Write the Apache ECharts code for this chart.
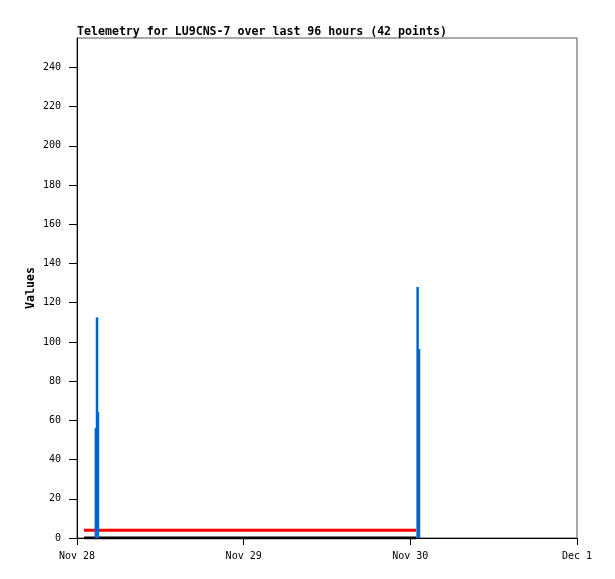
<!DOCTYPE html>
<html>
<head>
<meta charset="utf-8">
<script src="https://cdn.jsdelivr.net/npm/echarts@6/dist/echarts.min.js"></script>
<style>html,body{margin:0;padding:0;background:#fff}#c{width:615px;height:579px}</style>
</head>
<body>
<div id="c"></div>
<script>
// ---- data ----
const titleText = 'Telemetry for LU9CNS-7 over last 96 hours (42 points)';
const yAxisName = 'Values';
const xTickTimes = ['2023-11-28 00:00', '2023-11-29 00:00', '2023-11-30 00:00', '2023-12-01 00:00'];
const xTickLabels = ['Nov 28', 'Nov 29', 'Nov 30', 'Dec 1'];
const yTickValues = [0, 20, 40, 60, 80, 100, 120, 140, 160, 180, 200, 220, 240];

const lineTimes = ['2023-11-28 01:00', '2023-11-30 00:51'];
const blackValues = [0, 0];
const redValues = [4, 4];

const barTimes = ['2023-11-28 02:43', '2023-11-28 02:53', '2023-11-28 03:01', '2023-11-30 01:03', '2023-11-30 01:15'];
const barValues = [56, 112.5, 64.3, 128, 96.4];

// ---- helpers ----
function toMs(s) {
  const [d, t] = s.split(' ');
  const [y, mo, da] = d.split('-').map(Number);
  const [h, mi] = t.split(':').map(Number);
  return Date.UTC(y, mo - 1, da, h, mi);
}
const tickMs = xTickTimes.map(toMs);
const pair = (ts, vs) => ts.map((t, i) => [toMs(t), vs[i]]);

const mono = '"DejaVu Sans Mono", "Liberation Mono", monospace';

const chart = echarts.init(document.getElementById('c'), null, {renderer: 'canvas'});
chart.setOption({
  animation: false,
  backgroundColor: '#fff',
  title: {
    text: titleText,
    left: 77, top: 26, padding: 0,
    textStyle: {fontFamily: mono, fontSize: 11.6, fontWeight: 'bold', color: '#000'}
  },
  grid: {
    left: 77, top: 38, width: 500, height: 500,
    show: true, borderColor: '#555', borderWidth: 1, backgroundColor: 'transparent',
    outerBoundsMode: 'none', containLabel: false
  },
  xAxis: {
    type: 'value',
    min: tickMs[0], max: tickMs[tickMs.length - 1],
    axisLine: {show: true, lineStyle: {color: '#000', width: 1}},
    axisTick: {show: true, length: 7, customValues: tickMs, lineStyle: {color: '#000'}},
    axisLabel: {
      customValues: tickMs, margin: 13, color: '#000',
      fontFamily: mono, fontSize: 10,
      formatter: function (v) { const i = tickMs.indexOf(v); return i >= 0 ? xTickLabels[i] : ''; }
    },
    splitLine: {show: false}
  },
  yAxis: {
    type: 'value',
    min: 0, max: 255,
    name: yAxisName, nameLocation: 'middle', nameRotate: 90, nameGap: 40,
    nameMoveOverlap: false,
    nameTextStyle: {fontFamily: mono, fontSize: 11.6, fontWeight: 'bold', color: '#000'},
    axisLine: {show: true, lineStyle: {color: '#000', width: 1}},
    axisTick: {show: true, length: 8, customValues: yTickValues, lineStyle: {color: '#000'}},
    axisLabel: {customValues: yTickValues, margin: 16, color: '#000', fontFamily: mono, fontSize: 10},
    splitLine: {show: false}
  },
  series: [
    {
      type: 'line', data: pair(lineTimes, blackValues), showSymbol: false,
      lineStyle: {color: '#000', width: 3, cap: 'butt'}, z: 3
    },
    {
      type: 'line', data: pair(lineTimes, redValues), showSymbol: false,
      lineStyle: {color: '#ff0000', width: 3, cap: 'butt'}, z: 3
    },
    {
      type: 'bar', data: pair(barTimes, barValues), barWidth: 2.5,
      itemStyle: {color: '#0066cc'}, z: 4
    }
  ]
});
</script>
</body>
</html>
